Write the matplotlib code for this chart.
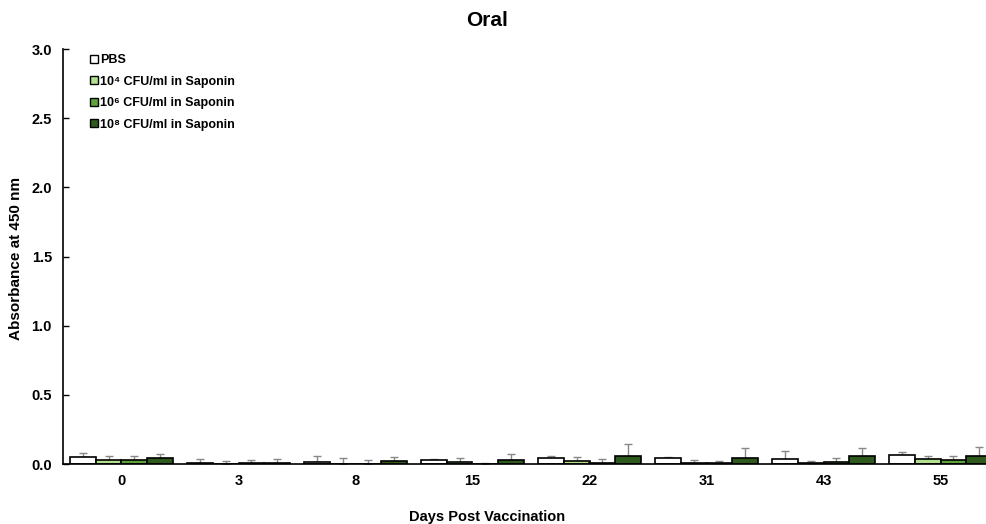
import numpy as np
import matplotlib
matplotlib.use("Agg")
import matplotlib.pyplot as plt
from matplotlib.lines import Line2D

plt.rcParams['font.family'] = ['Liberation Sans', 'DejaVu Sans']
plt.rcParams['font.weight'] = 'bold'

days = ['0', '3', '8', '15', '22', '31', '43', '55']
labels = ['PBS', '10⁴ CFU/ml in Saponin', '10⁶ CFU/ml in Saponin',
          '10⁸ CFU/ml in Saponin']
pbs = [0.05, 0.005, 0.015, 0.03, 0.04, 0.04, 0.035, 0.065]
pbs_err = [0.03, 0.03, 0.04, 0.005, 0.015, 0.01, 0.06, 0.025]
low = [0.03, 0.002, 0.002, 0.015, 0.02, 0.005, 0.005, 0.035]
low_err = [0.025, 0.018, 0.038, 0.03, 0.03, 0.025, 0.015, 0.025]
mid = [0.03, 0.005, 0.003, 0.002, 0.005, 0.008, 0.015, 0.03]
mid_err = [0.025, 0.025, 0.027, 0.003, 0.03, 0.012, 0.03, 0.025]
high = [0.045, 0.01, 0.02, 0.03, 0.055, 0.045, 0.055, 0.055]
high_err = [0.03, 0.025, 0.03, 0.045, 0.09, 0.07, 0.06, 0.065]

series = [pbs, low, mid, high]
errors = [pbs_err, low_err, mid_err, high_err]
colors = ['#ffffff', '#b3e08f', '#5ea33a', '#2e5a1e']

fig = plt.figure(figsize=(9.87, 5.24), dpi=100)
ax = fig.add_axes([63 / 987, 60 / 524, 936 / 987, 415 / 524])

x = np.arange(len(days))
w = 0.222
for i, (vals, err, c) in enumerate(zip(series, errors, colors)):
    pos = x + (i - 1.5) * w
    ax.bar(pos, vals, w, color=c, edgecolor='black', linewidth=1.2,
           zorder=2)
    ax.errorbar(pos, vals, yerr=[np.zeros(len(err)), err], fmt='none',
                ecolor='#888888', elinewidth=1, capsize=3, capthick=1,
                zorder=1)

ax.set_xlim(-0.5, 7.5)
ax.set_ylim(0, 3.0)
ax.set_yticks(np.arange(0, 3.01, 0.5))
ax.set_yticklabels([f'{v:.1f}' for v in np.arange(0, 3.01, 0.5)])
ax.set_xticks(x)
ax.set_xticklabels(days)
ax.tick_params(axis='y', direction='in', length=4, width=1, labelsize=10.5,
               pad=8)
ax.tick_params(axis='x', length=0, labelsize=10.5, pad=7)
for s in ['top', 'right']:
    ax.spines[s].set_visible(False)
ax.spines['left'].set_linewidth(1.2)
ax.spines['bottom'].set_linewidth(1.2)

# title and x label are centred on the visible figure, not the wide axes
fig.text(487 / 987, 1 - 21 / 524, 'Oral', fontsize=15, fontweight='bold',
         ha='center', va='center')
fig.text(487 / 987, 1 - 517 / 524, 'Days Post Vaccination', fontsize=10.5,
         fontweight='bold', ha='center', va='center')
fig.text(16 / 987, 1 - 258 / 524, 'Absorbance at 450 nm', fontsize=11,
         fontweight='bold', ha='center', va='center', rotation=90)

handles = [Line2D([], [], marker='s', linestyle='none', markersize=6,
                  markerfacecolor=c, markeredgecolor='black',
                  markeredgewidth=1) for c in colors]
ax.legend(handles, labels, loc='upper left', bbox_to_anchor=(0.018, 1.005),
          frameon=False, prop={'size': 9, 'weight': 'bold'},
          handletextpad=0.0, handlelength=1.0, labelspacing=0.75,
          borderaxespad=0.2)

fig.savefig('out.png', dpi=100)
